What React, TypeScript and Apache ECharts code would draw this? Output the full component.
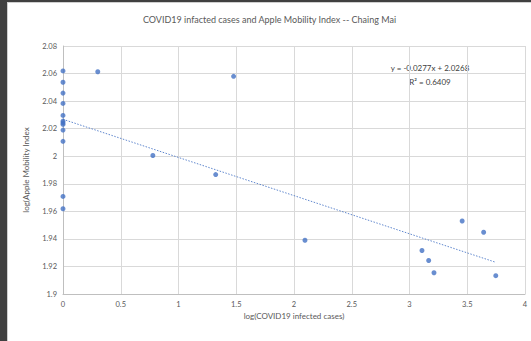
import React, { useEffect, useRef } from "react";
import * as echarts from "echarts";

// log10(COVID19 infected cases)
const xValues: number[] = [
  0, 0, 0, 0, 0, 0, 0, 0, 0, 0, 0, 0,
  0.301, 0.778, 1.322, 1.477, 2.095, 3.108, 3.166, 3.212, 3.456, 3.642, 3.747,
];
// log10(Apple Mobility Index)
const yValues: number[] = [
  2.0619, 2.0537, 2.0458, 2.0383, 2.0296, 2.0255, 2.0243, 2.0231, 2.019, 2.0108, 1.9708, 1.9619,
  2.0613, 2.0005, 1.9867, 2.058, 1.939, 1.9316, 1.9243, 1.9154, 1.953, 1.9448, 1.9133,
];
const trendSlope = -0.0277;
const trendIntercept = 2.0268;
const rSquared = 0.6409;
const xTicks = { min: 0, max: 4, interval: 0.5 };
const yTicks = { min: 1.9, max: 2.08, interval: 0.02 };

const titleText = "COVID19 infacted cases and Apple Mobility Index -- Chaing Mai";
const xName = "log(COVID19 infected cases)";
const yName = "log(Apple Mobility Index";

export default function App() {
  const ref = useRef<HTMLDivElement>(null);
  useEffect(() => {
    if (!ref.current) return;
    const chart = echarts.init(ref.current, undefined, { renderer: "svg" });
    const pts = xValues.map((x, i) => [x, yValues[i]]);
    const xMax = Math.max(...xValues);
    const xMin = Math.min(...xValues);
    const trend = [
      [xMin, trendIntercept + trendSlope * xMin],
      [xMax, trendIntercept + trendSlope * xMax],
    ];
    const font = "Lato, 'Open Sans', sans-serif";
    const fmt = (v: number) => String(Math.round(v * 1000) / 1000);
    chart.setOption({
      animation: false,
      backgroundColor: "#ffffff",
      title: {
        text: titleText,
        left: "center",
        top: 7,
        textStyle: { fontFamily: font, fontSize: 9, fontWeight: "normal", color: "#595959" },
      },
      grid: { left: 55, right: 6, top: 43, bottom: 47 },
      xAxis: {
        type: "value",
        min: xTicks.min,
        max: xTicks.max,
        interval: xTicks.interval,
        name: xName,
        nameLocation: "middle",
        nameGap: 18,
        nameMoveOverlap: false,
        nameTextStyle: { fontFamily: font, fontSize: 8, color: "#595959" },
        axisLine: { show: true, lineStyle: { color: "#bfbfbf", width: 1 } },
        axisTick: { show: false },
        axisLabel: { fontFamily: font, fontSize: 7.5, color: "#595959", margin: 6, formatter: fmt },
        splitLine: { show: true, lineStyle: { color: "#d9d9d9", width: 1 } },
      },
      yAxis: {
        type: "value",
        min: yTicks.min,
        max: yTicks.max,
        interval: yTicks.interval,
        name: yName,
        nameLocation: "middle",
        nameGap: 33,
        nameMoveOverlap: false,
        nameTextStyle: { fontFamily: font, fontSize: 8, color: "#595959" },
        axisLine: { show: true, lineStyle: { color: "#bfbfbf", width: 1 } },
        axisTick: { show: false },
        axisLabel: { fontFamily: font, fontSize: 7.5, color: "#595959", margin: 6, formatter: fmt },
        splitLine: { show: true, lineStyle: { color: "#d9d9d9", width: 1 } },
      },
      series: [
        {
          type: "line",
          data: trend,
          showSymbol: false,
          symbol: "none",
          lineStyle: { color: "#4472C4", width: 1, type: [1.5, 1.5], opacity: 0.85 },
          z: 2,
        },
        {
          type: "scatter",
          data: pts,
          symbol: "circle",
          symbolSize: 5,
          itemStyle: { color: "#4472C4" },
          z: 3,
        },
      ],
      graphic: [
        {
          type: "text",
          x: 422,
          y: 65,
          style: {
            text: `y = ${trendSlope}x + ${trendIntercept}`,
            fontFamily: font,
            fontSize: 8,
            fill: "#404040",
            align: "center",
            verticalAlign: "middle",
          },
        },
        {
          type: "text",
          x: 422,
          y: 79,
          style: {
            text: `R² = ${rSquared}`,
            fontFamily: font,
            fontSize: 8,
            fill: "#404040",
            align: "center",
            verticalAlign: "middle",
          },
        },
      ],
    });
    return () => chart.dispose();
  }, []);
  return (
    <div style={{ position: "fixed", left: 0, top: 0, width: 531, height: 341, background: "#404040", overflow: "hidden" }}>
      <div
        style={{
          position: "absolute",
          left: 7,
          top: 2,
          borderLeft: "1px solid #cfcfcf",
          borderTop: "1px solid #cfcfcf",
          background: "#ffffff",
        }}
      >
        <div ref={ref} style={{ width: 523, height: 338 }} />
      </div>
    </div>
  );
}
